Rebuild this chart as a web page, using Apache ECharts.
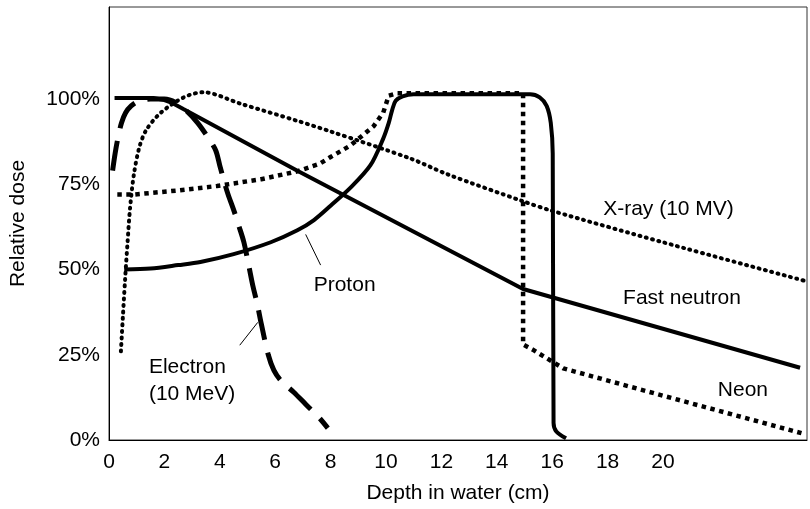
<!DOCTYPE html>
<html>
<head>
<meta charset="utf-8">
<script src="https://cdn.jsdelivr.net/npm/echarts@6/dist/echarts.min.js"></script>
<style>
  html, body { margin: 0; padding: 0; background: #fff; }
  #chart { width: 810px; height: 509px; }
</style>
</head>
<body>
<div id="chart"></div>
<script>
// depth (cm), relative dose (%)
const xrayData = [[0.43, 26], [0.5, 36], [0.58, 47], [0.67, 58], [0.76, 68], [0.9, 78], [1.1, 86],
  [1.35, 91], [1.87, 96], [2.7, 100.5], [3.4, 102], [4.76, 98.6], [6.8, 93.6], [8, 90.5],
  [10.9, 82.5], [12.2, 78], [14.95, 70], [16, 67.2], [20, 58], [25.2, 46.5]];
const neutronData = [[0.2, 100.3], [1.6, 100.3], [1.95, 99.8], [2.3, 98.8], [2.7, 97], [6.8, 79],
  [14.95, 44.3], [24.95, 21.2]];
const protonData = [[0.55, 50], [1.5, 50.3], [2.5, 51.3], [3.3, 52.2], [4.5, 54.5], [5.84, 58],
  [6.8, 61.5], [7.4, 64.5], [8, 68.7], [8.72, 74], [9.44, 80.6], [9.9, 88.4], [10.1, 93],
  [10.23, 97], [10.35, 99.5], [10.6, 100.8], [11, 101.4], [15.2, 101.4], [15.55, 100.5],
  [15.8, 98], [15.95, 93], [16.02, 84], [16.05, 5], [16.15, 2.5], [16.5, 0.5]];
const neonData = [[0.3, 72], [0.9, 72], [2.5, 73.2], [3.9, 74.5], [5.5, 76.5], [6.8, 78.8],
  [7.6, 81], [8.0, 83], [8.72, 86.4], [9.55, 92], [9.9, 96], [10.1, 101], [10.4, 101.7],
  [14.95, 101.7], [14.95, 28], [15.3, 26.5], [16.4, 21], [20, 13], [25, 2]];
const electronData = [[0.13, 79], [0.22, 84], [0.32, 88.5], [0.45, 93], [0.6, 96], [0.8, 98],
  [1.05, 99.3], [1.5, 100], [2.0, 100], [2.4, 99], [2.8, 96.5], [3.2, 93], [3.55, 89],
  [3.85, 85], [4.0, 80.5], [4.15, 76], [4.3, 72], [4.5, 67.5], [4.7, 62.5], [4.87, 58],
  [5.05, 51], [5.2, 45], [5.35, 40], [5.5, 34], [5.75, 25], [5.95, 20.5], [6.2, 17.5],
  [6.67, 14], [7.1, 10.5], [7.57, 6.7], [7.9, 3.5]];

// leader lines and labels
const protonLeader = [[7.1, 60.3], [7.64, 51.3]];
const electronLeader = [[4.72, 27.8], [5.37, 34.5]];
const labels = [
  { text: "Proton", x: 7.39, y: 45.5 },
  { text: "Electron\n(10 MeV)", x: 1.44, y: 17.5 },
  { text: "X-ray (10 MV)", x: 17.84, y: 67.8 },
  { text: "Fast neutron", x: 18.56, y: 41.7 },
  { text: "Neon", x: 21.98, y: 14.5 },
];

const font = "Liberation Sans";
const chart = echarts.init(document.getElementById("chart"));

function curve(data, lineStyle, smooth) {
  return {
    type: "line",
    data: data,
    smooth: smooth || false,
    showSymbol: false,
    symbol: "none",
    animation: false,
    lineStyle: Object.assign({ color: "#000" }, lineStyle),
  };
}

chart.setOption({
  animation: false,
  grid: {
    left: 108, top: 7, right: 3, bottom: 64,
    show: true, borderColor: "#333", borderWidth: 1,
  },
  xAxis: {
    type: "value",
    min: 0,
    max: 25.2,
    interval: 2,
    name: "Depth in water (cm)",
    nameLocation: "middle",
    nameGap: 43,
    nameTextStyle: { fontFamily: font, fontSize: 21, color: "#000" },
    axisLine: { lineStyle: { color: "#000", width: 1 } },
    axisTick: { show: false },
    splitLine: { show: false },
    axisLabel: {
      fontFamily: font, fontSize: 21, color: "#000", margin: 12,
      showMaxLabel: false,
      formatter: (v) => (v <= 20 ? String(v) : ""),
    },
  },
  yAxis: {
    type: "value",
    min: 0,
    max: 127,
    interval: 25,
    name: "Relative dose",
    nameLocation: "middle",
    nameGap: 80,
    nameTextStyle: { fontFamily: font, fontSize: 21, color: "#000" },
    axisLine: { show: true, lineStyle: { color: "#000", width: 1 } },
    axisTick: { show: false },
    splitLine: { show: false },
    axisLabel: {
      fontFamily: font, fontSize: 21, color: "#000", margin: 9,
      showMaxLabel: false,
      formatter: (v) => (v <= 100 ? v + "%" : ""),
    },
  },
  series: [
    curve(xrayData, { width: 4, type: [1, 5.5], cap: "round" }, 0.3),
    curve(neonData, { width: 4.5, type: [4.5, 4.5], cap: "butt" }),
    curve(neutronData, { width: 4 }),
    curve(protonData, { width: 4 }, 0.3),
    curve(electronData, { width: 5, type: [30, 13], cap: "butt" }, 0.3),
    curve(protonLeader, { width: 1 }),
    curve(electronLeader, { width: 1 }),
  ],
});

chart.setOption({
  graphic: labels.map((l) => {
    const p = chart.convertToPixel({ gridIndex: 0 }, [l.x, l.y]);
    return {
      type: "text",
      x: p[0],
      y: p[1],
      style: {
        text: l.text,
        fontFamily: font,
        fontSize: 21,
        lineHeight: 27,
        fill: "#000",
        align: "left",
        verticalAlign: "middle",
      },
    };
  }),
});
</script>
</body>
</html>
